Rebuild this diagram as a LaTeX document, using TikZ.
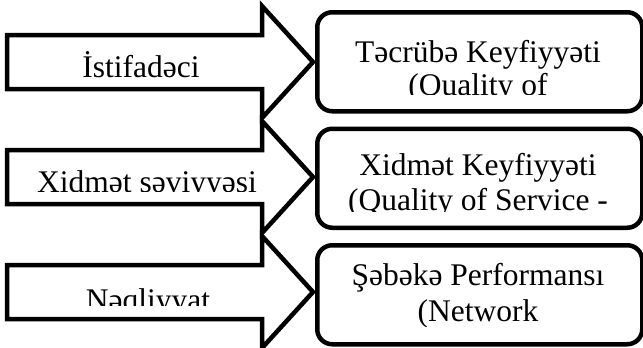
\documentclass[tikz,border=0pt]{standalone}
\usepackage{fontspec}
\setmainfont{Liberation Serif}
\begin{document}
\begin{tikzpicture}[x=1pt,y=-1pt,line width=4.5pt,
  blockarrow/.style={draw=black,line join=miter,fill=white},
  boxnode/.style={draw=black,rounded corners=15pt,minimum width=325pt,minimum height=99pt,anchor=north west,inner sep=0pt},
  lbl/.style={font=\fontsize{31.5}{35}\selectfont,anchor=base,inner sep=0pt}]
\fill[white] (0,0) rectangle (643,348);
\useasboundingbox (0,0) rectangle (643,348);
% arrows
\foreach \c/\nm in {62/a1,177/a2,292/a3}{
  \draw[blockarrow] (7,\c-27) -- (262,\c-27) -- (262,\c-56) -- (313,\c) -- (262,\c+56) -- (262,\c+27) -- (7,\c+27) -- cycle;
  \coordinate (\nm) at (313,\c);
}
% boxes
\node[boxnode] (b1) at (315,10) {};
\node[boxnode] (b2) at (315,126.5) {};
\node[boxnode] (b3) at (315,243) {};
% arrow labels
\node[lbl] (t1) at (141,77) {İstifadəci};
\begin{scope}
\clip (0,0) rectangle (300,191);
\node[lbl] (t2) at (147,192) {Xidmət səviyyəsi};
\end{scope}
\begin{scope}
\clip (0,0) rectangle (300,305);
\node[lbl] (t3) at (148,310) {Nəqliyyat};
\end{scope}
% box labels
\node[lbl] (q1a) at (478,62) {Təcrübə Keyfiyyəti};
\begin{scope}
\clip (320,60) rectangle (636,94.5);
\node[lbl] (q1b) at (478,95) {(Quality of};
\end{scope}
\node[lbl] (q2a) at (478,175.5) {Xidmət Keyfiyyəti};
\begin{scope}
\clip (320,180) rectangle (636,211);
\node[lbl] (q2b) at (478,210.5) {(Quality of Service -};
\end{scope}
\node[lbl] (q3a) at (478,285) {Şəbəkə Performansı};
\begin{scope}
\clip (320,290) rectangle (636,326);
\node[lbl] (q3b) at (478,321) {(Network};
\end{scope}
\end{tikzpicture}
\end{document}
